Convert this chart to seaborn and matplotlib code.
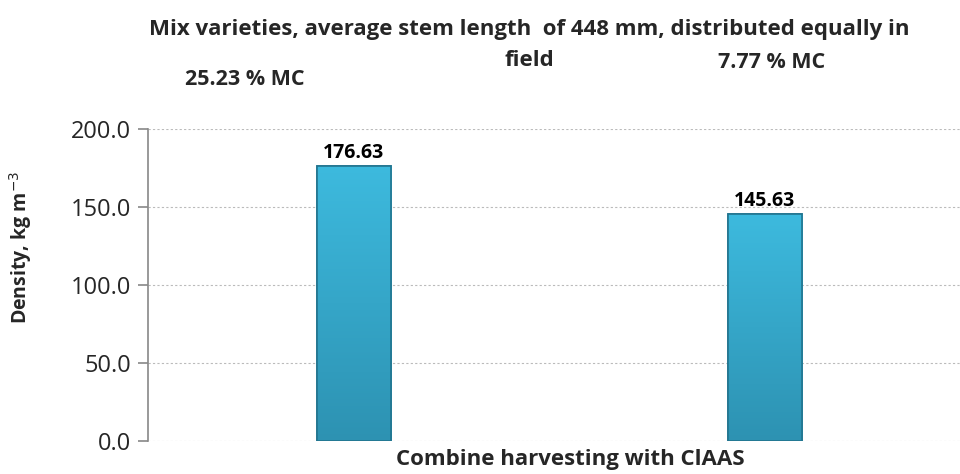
import matplotlib
matplotlib.use("Agg")
import matplotlib.pyplot as plt
import seaborn as sns
import pandas as pd
import numpy as np

# data
moisture = ["25.23 % MC", "7.77 % MC"]
density = [176.63, 145.63]
yticks = [0, 50, 100, 150, 200]

df = pd.DataFrame({"moisture": moisture, "density": density})

sns.set_theme(style="white")
plt.rcParams["font.family"] = ["Open Sans", "DejaVu Sans"]

fig = plt.figure(figsize=(9.6, 4.74), dpi=100)
ax = fig.add_axes([148 / 960, 0.0703, 1 - 148 / 960, 0.6565])

sns.barplot(data=df, x="moisture", y="density", width=0.18, color="#37ADD2",
            saturation=1, edgecolor="#22758F", linewidth=1.2, ax=ax)

# soft vertical gradient inside each bar, like the bevelled original
grad = np.linspace(1, 0, 256).reshape(-1, 1)
cmap = matplotlib.colors.LinearSegmentedColormap.from_list("bar", ["#2D92B2", "#3DBADE"])
for patch in list(ax.patches):
    x0, y0 = patch.get_x(), patch.get_y()
    w, h = patch.get_width(), patch.get_height()
    im = ax.imshow(grad, cmap=cmap, aspect="auto", extent=(x0, x0 + w, y0, y0 + h),
                   zorder=patch.get_zorder() + 0.1, origin="upper")
    im.set_clip_path(patch)
    edge = matplotlib.patches.Rectangle((x0, y0), w, h, fill=False, edgecolor="#22758F",
                                        linewidth=1.2, zorder=patch.get_zorder() + 0.2)
    ax.add_patch(edge)

for i, v in enumerate(density):
    ax.text(i, v + 2, f"{v:.2f}", ha="center", va="bottom",
            fontsize=14, fontweight="bold", color="black")

ax.set_xlim(-0.5, 1.475)
ax.set_ylim(0, 200)
ax.set_yticks(yticks)
ax.set_yticklabels([f"{t:.1f}" for t in yticks], fontsize=17)
ax.set_xticks([])
ax.set_xlabel("")
ax.set_ylabel("")
ax.grid(axis="y", color="#BBBBBB", linestyle=(0, (2, 2)), linewidth=0.8)
ax.set_axisbelow(True)
for s in ["top", "right", "bottom"]:
    ax.spines[s].set_visible(False)
ax.spines["left"].set_color("#888888")
ax.spines["left"].set_linewidth(1.2)
ax.tick_params(axis="y", direction="out", length=7, width=1.2, color="#888888", left=True, pad=5)

fig.text(21 / 960, 1 - 247 / 474, "Density, kg m$^{-3}$", rotation=90,
         ha="center", va="center", fontsize=14, fontweight="bold")
fig.text(529 / 960, 1 - 30 / 474, "Mix varieties, average stem length  of 448 mm, distributed equally in",
         ha="center", va="center", fontsize=16, fontweight="bold")
fig.text(529 / 960, 1 - 60 / 474, "field", ha="center", va="center", fontsize=16, fontweight="bold")
fig.text(245 / 960, 1 - 80 / 474, moisture[0], ha="center", va="center", fontsize=15.5, fontweight="bold")
fig.text(772 / 960, 1 - 62 / 474, moisture[1], ha="center", va="center", fontsize=15.5, fontweight="bold")
fig.text(570 / 960, 1 - 460 / 474, "Combine harvesting with ClAAS", ha="center", va="center",
         fontsize=16, fontweight="bold")

fig.savefig("out.png", dpi=100)
